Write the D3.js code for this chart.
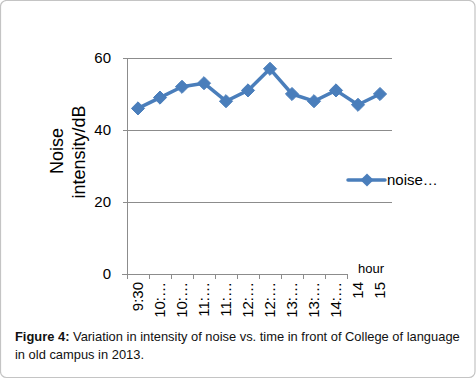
<!DOCTYPE html>
<html><head><meta charset="utf-8">
<script src="https://cdn.jsdelivr.net/npm/d3@7"></script>
<style>body{margin:0;background:#fff}svg{display:block}</style>
</head><body>
<script>
const categories = ["9:30","10:…","10:…","11:…","11:…","12:…","12:…","13:…","13:…","14:…","14","15"];
const noise = [46,49,52,53,48,51,57,50,48,51,47,50];
const yTicks = [0,20,40,60];
const seriesName = "noise…";
const yTitle = ["Noise","intensity/dB"];
const caption1Bold = "Figure 4:";
const caption1 = " Variation in intensity of noise vs. time in front of College of language";
const caption2 = "in old campus in 2013.";

const W=476,H=380;
const svg=d3.select("body").append("svg").attr("width",W).attr("height",H);
svg.append("rect").attr("x",0.5).attr("y",0.5).attr("width",474.5).attr("height",377).attr("rx",6)
  .attr("fill","#fff").attr("stroke","#c4c4c4").attr("stroke-width",1.2);

const x=d3.scaleBand().domain(d3.range(categories.length)).range([127,391]).padding(0);
const y=d3.scaleLinear().domain([0,60]).range([274,58]);
const font="Liberation Sans, Arial, sans-serif";

// gridlines
svg.append("g").selectAll("line").data(yTicks.filter(d=>d>0)).join("line")
  .attr("x1",123).attr("x2",392).attr("y1",d=>y(d)+0.5).attr("y2",d=>y(d)+0.5)
  .attr("stroke","#8c8c8c").attr("stroke-width",1);
// y axis
svg.append("line").attr("x1",127.5).attr("x2",127.5).attr("y1",y(60)).attr("y2",y(0)).attr("stroke","#8c8c8c");
svg.append("line").attr("x1",123).attr("x2",127).attr("y1",y(0)+0.5).attr("y2",y(0)+0.5).attr("stroke","#8c8c8c");
svg.append("g").selectAll("text").data(yTicks).join("text")
  .attr("x",111).attr("y",d=>y(d)+5).attr("text-anchor","end")
  .attr("font-family",font).attr("font-size",15).attr("fill","#000").text(d=>d);
// x axis line (covered at end by "hour" label)
svg.append("line").attr("x1",122).attr("x2",x(10)).attr("y1",y(0)+0.5).attr("y2",y(0)+0.5).attr("stroke","#8c8c8c");
svg.append("g").selectAll("line").data(d3.range(categories.length-1)).join("line")
  .attr("x1",d=>x(d)+0.5).attr("x2",d=>x(d)+0.5).attr("y1",y(0)).attr("y2",y(0)+5).attr("stroke","#8c8c8c");
svg.append("text").attr("x",358).attr("y",273).attr("font-family",font).attr("font-size",13).text("hour");
// x labels
svg.append("g").selectAll("text").data(categories).join("text")
  .attr("transform",(d,i)=>`translate(${x(i)+x.bandwidth()/2+5},282) rotate(-90)`)
  .attr("text-anchor","end").attr("font-family",font).attr("font-size",15).text(d=>d);
// line
const line=d3.line().x((d,i)=>x(i)+x.bandwidth()/2).y(d=>y(d));
svg.append("path").datum(noise).attr("d",line).attr("fill","none").attr("stroke","#4a7ebb")
  .attr("stroke-width",3.5).attr("stroke-linejoin","round");
const dia=d3.symbol().type(d3.symbolDiamond2).size(110);
svg.append("g").selectAll("path").data(noise).join("path")
  .attr("transform",(d,i)=>`translate(${x(i)+x.bandwidth()/2},${y(d)})`)
  .attr("d",dia).attr("fill","#4a7ebb").attr("stroke","#4a7ebb").attr("stroke-width",1);
// y title
svg.append("text").attr("transform","translate(63,151) rotate(-90)").attr("text-anchor","middle")
  .attr("font-family",font).attr("font-size",18).text(yTitle[0]);
svg.append("text").attr("transform","translate(85,152) rotate(-90)").attr("text-anchor","middle")
  .attr("font-family",font).attr("font-size",18).text(yTitle[1]);
// legend
svg.append("line").attr("x1",348).attr("x2",385).attr("y1",180).attr("y2",180).attr("stroke","#4a7ebb").attr("stroke-width",3.5).attr("stroke-linecap","round");
svg.append("path").attr("transform","translate(367,180)").attr("d",dia).attr("fill","#4a7ebb");
svg.append("text").attr("x",387).attr("y",185).attr("font-family",font).attr("font-size",15).text(seriesName);
// caption
const c1=svg.append("text").attr("x",15).attr("y",341).attr("font-family",font).attr("font-size",12.9).attr("fill","#111");
c1.append("tspan").attr("font-weight","bold").text(caption1Bold);
c1.append("tspan").text(caption1);
svg.append("text").attr("x",15).attr("y",359).attr("font-family",font).attr("font-size",12.9).attr("fill","#111").text(caption2);
</script>
</body></html>
